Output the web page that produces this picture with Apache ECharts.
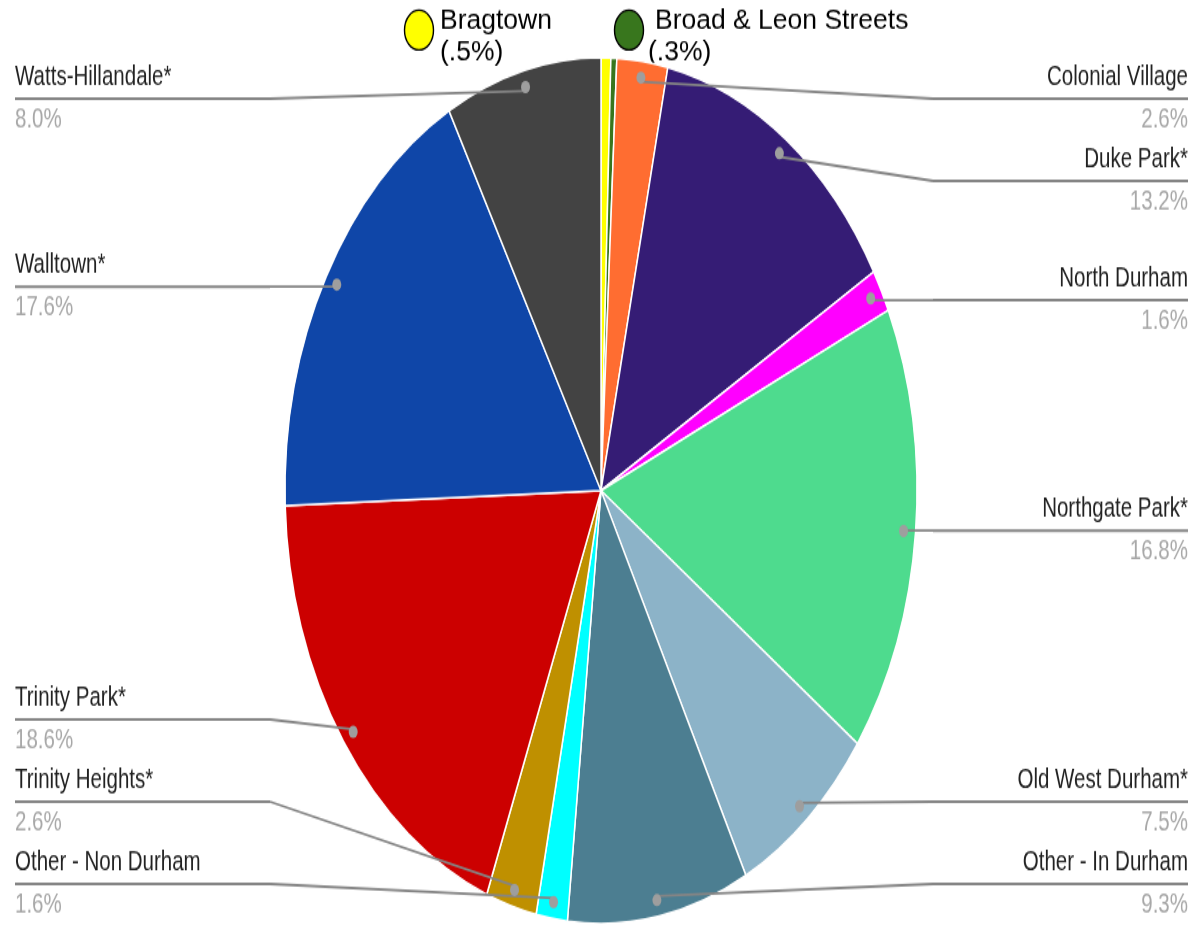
<!DOCTYPE html>
<html>
<head>
<meta charset="utf-8">
<title>Neighborhoods</title>
<script src="https://cdn.jsdelivr.net/npm/echarts@6/dist/echarts.min.js"></script>
<style>
  html, body { margin: 0; padding: 0; background: #ffffff; width: 1193px; height: 925px; }
  #page { position: relative; width: 1193px; height: 925px; }
  /* The chart is laid out on a 675px-tall canvas and stretched vertically to fill the page. */
  #chart { position: absolute; left: 0; top: 0; width: 1193px; height: 675px;
           transform: scaleY(1.370370); transform-origin: 0 0; }
</style>
</head>
<body>
<div id="page"><div id="chart"></div></div>
<script>
// ---- data -------------------------------------------------------------
const neighborhoods = [
  'Bragtown', 'Broad & Leon Streets', 'Colonial Village', 'Duke Park*',
  'North Durham', 'Northgate Park*', 'Old West Durham*', 'Other - In Durham',
  'Other - Non Durham', 'Trinity Heights*', 'Trinity Park*', 'Walltown*',
  'Watts-Hillandale*'
];
const shares = [0.5, 0.3, 2.6, 13.2, 1.6, 16.8, 7.5, 9.3, 1.6, 2.6, 18.6, 17.6, 8.0];
const sliceColors = [
  '#ffff00', '#38761d', '#ff6d31', '#351c75',
  '#ff00ff', '#4edb8e', '#8cb3c8', '#4c7e91',
  '#00ffff', '#bf9000', '#cc0000', '#0f46a8',
  '#434343'
];
// Tiny slices named in bubbles above the pie rather than at the edges.
const bubbleNames = ['Bragtown', 'Broad & Leon Streets'];

// ---- layout -----------------------------------------------------------
const STRETCH = 925 / 675;
const CX = 601, CY = 358;      // pie centre on the canvas
const R = 316;                 // pie radius
const DOT_R = 301;             // radius where leader lines start
const LABEL_H = 60;            // height of one name / rule / percent block
const BAND_TOP = 42, BAND_BOTTOM = 675;
const RULE_W = 255;

// Vertical slot of each edge label: start at its dot's height and
// push neighbours apart so the blocks do not overlap.
const total = shares.reduce((a, b) => a + b, 0);
let acc = 0;
const midAngles = shares.map(v => { const m = (acc + v / 2) / total * 2 * Math.PI; acc += v; return m; });
const labelY = {};
[1, -1].forEach(side => {
  const idx = neighborhoods.map((n, i) => i)
    .filter(i => bubbleNames.indexOf(neighborhoods[i]) < 0)
    .filter(i => (Math.sin(midAngles[i]) >= 0 ? 1 : -1) === side)
    .sort((a, b) => Math.cos(midAngles[b]) - Math.cos(midAngles[a]));
  let last = -Infinity;
  idx.forEach(i => {
    const y = Math.max(CY - DOT_R * Math.cos(midAngles[i]), BAND_TOP + LABEL_H / 2, last + LABEL_H);
    labelY[i] = y; last = y;
  });
  let next = Infinity;
  idx.slice().reverse().forEach(i => {
    const y = Math.min(labelY[i], BAND_BOTTOM - LABEL_H / 2, next - LABEL_H);
    labelY[i] = y; next = y;
  });
});

const pct = v => v.toFixed(1) + '%';
const shortPct = v => '(' + String(v).replace(/^0/, '') + '%)';

const chart = echarts.init(document.getElementById('chart'), null, { renderer: 'canvas', width: 1193, height: 675 });

const baseBox = { left: 0, top: 0, width: 1203, height: 675, center: [CX, CY], animation: false };

const sliceData = neighborhoods.map((n, i) => ({ name: n, value: shares[i], itemStyle: { color: sliceColors[i] } }));
const isBubble = i => bubbleNames.indexOf(neighborhoods[i]) >= 0;

const labelData = neighborhoods.map((n, i) => ({
  name: n, value: shares[i],
  label: { show: !isBubble(i) },
  labelLine: { show: !isBubble(i) }
}));
const dotData = neighborhoods.map((n, i) => ({
  name: n, value: shares[i],
  label: { show: !isBubble(i) }
}));

const textFont = '"Liberation Sans", Arial, sans-serif';
const bubbleFont = '26.5px "Liberation Sans", Arial, sans-serif';

// Bubbles for the two tiny slices (text kept at page proportions).
const bubbleIdx = bubbleNames.map(n => neighborhoods.indexOf(n));

chart.setOption({
  backgroundColor: '#ffffff',
  animation: false,
  graphic: [
    { type: 'circle', shape: { cx: 419, cy: 30 / STRETCH, r: 14.5 },
      style: { fill: sliceColors[bubbleIdx[0]], stroke: '#000000', lineWidth: 1.4 }, z: 10 },
    { type: 'circle', shape: { cx: 629, cy: 30 / STRETCH, r: 14.5 },
      style: { fill: sliceColors[bubbleIdx[1]], stroke: '#000000', lineWidth: 1.4 }, z: 10 },
    {
      type: 'group', x: 0, y: 0, scaleY: 1 / STRETCH, z: 10,
      children: [
        { type: 'text', x: 440, y: 22, style: { text: neighborhoods[bubbleIdx[0]], fill: '#000000',
          font: bubbleFont, verticalAlign: 'middle' } },
        { type: 'text', x: 440, y: 53, style: { text: shortPct(shares[bubbleIdx[0]]), fill: '#000000',
          font: bubbleFont, verticalAlign: 'middle' } },
        { type: 'text', x: 655, y: 22, style: { text: neighborhoods[bubbleIdx[1]], fill: '#000000',
          font: bubbleFont, verticalAlign: 'middle' } },
        { type: 'text', x: 648, y: 53, style: { text: shortPct(shares[bubbleIdx[1]]), fill: '#000000',
          font: bubbleFont, verticalAlign: 'middle' } }
      ]
    }
  ],
  series: [
    Object.assign({}, baseBox, {
      type: 'pie', name: 'slices', radius: [0, R], startAngle: 90, clockwise: true,
      silent: true, z: 2,
      itemStyle: { borderColor: '#ffffff', borderWidth: 1.5 },
      label: { show: false }, labelLine: { show: false },
      data: sliceData
    }),
    Object.assign({}, baseBox, {
      type: 'pie', name: 'labels', radius: [0, DOT_R], startAngle: 90, clockwise: true,
      silent: true, z: 5,
      itemStyle: { color: 'rgba(0,0,0,0)', borderWidth: 0 },
      label: {
        show: true, position: 'outer', alignTo: 'edge', edgeDistance: 15,
        distanceToLabelLine: 0,
        formatter: p => '{n|' + p.name + '}\n{hr|}\n{p|' + pct(p.value) + '}',
        rich: {
          n: { fontFamily: textFont, fontSize: 20.5, color: '#222222', lineHeight: 29 },
          hr: { width: RULE_W, height: 2, lineHeight: 2, backgroundColor: '#858585' },
          p: { fontFamily: textFont, fontSize: 20.5, color: '#a8a8a8', lineHeight: 29 }
        }
      },
      labelLine: { show: true, length: 0, length2: 0, smooth: false,
        lineStyle: { color: '#858585', width: 1.8 } },
      labelLayout: params => {
        const y = labelY[params.dataIndex];
        const pts = params.labelLinePoints;
        if (y == null || !pts) return {};
        const endX = pts[2][0];
        return { y: y, labelLinePoints: [pts[0], [endX, y], [endX, y]] };
      },
      data: labelData
    }),
    Object.assign({}, baseBox, {
      type: 'pie', name: 'dots', radius: [DOT_R - 6, DOT_R + 6], startAngle: 90, clockwise: true,
      silent: true, z: 6,
      itemStyle: { color: 'rgba(0,0,0,0)', borderWidth: 0 },
      label: {
        show: true, position: 'inside', formatter: '{d|}',
        rich: { d: { width: 9, height: 9, borderRadius: 4.5, backgroundColor: '#9e9e9e' } }
      },
      labelLine: { show: false },
      data: dotData
    })
  ]
});
</script>
</body>
</html>
